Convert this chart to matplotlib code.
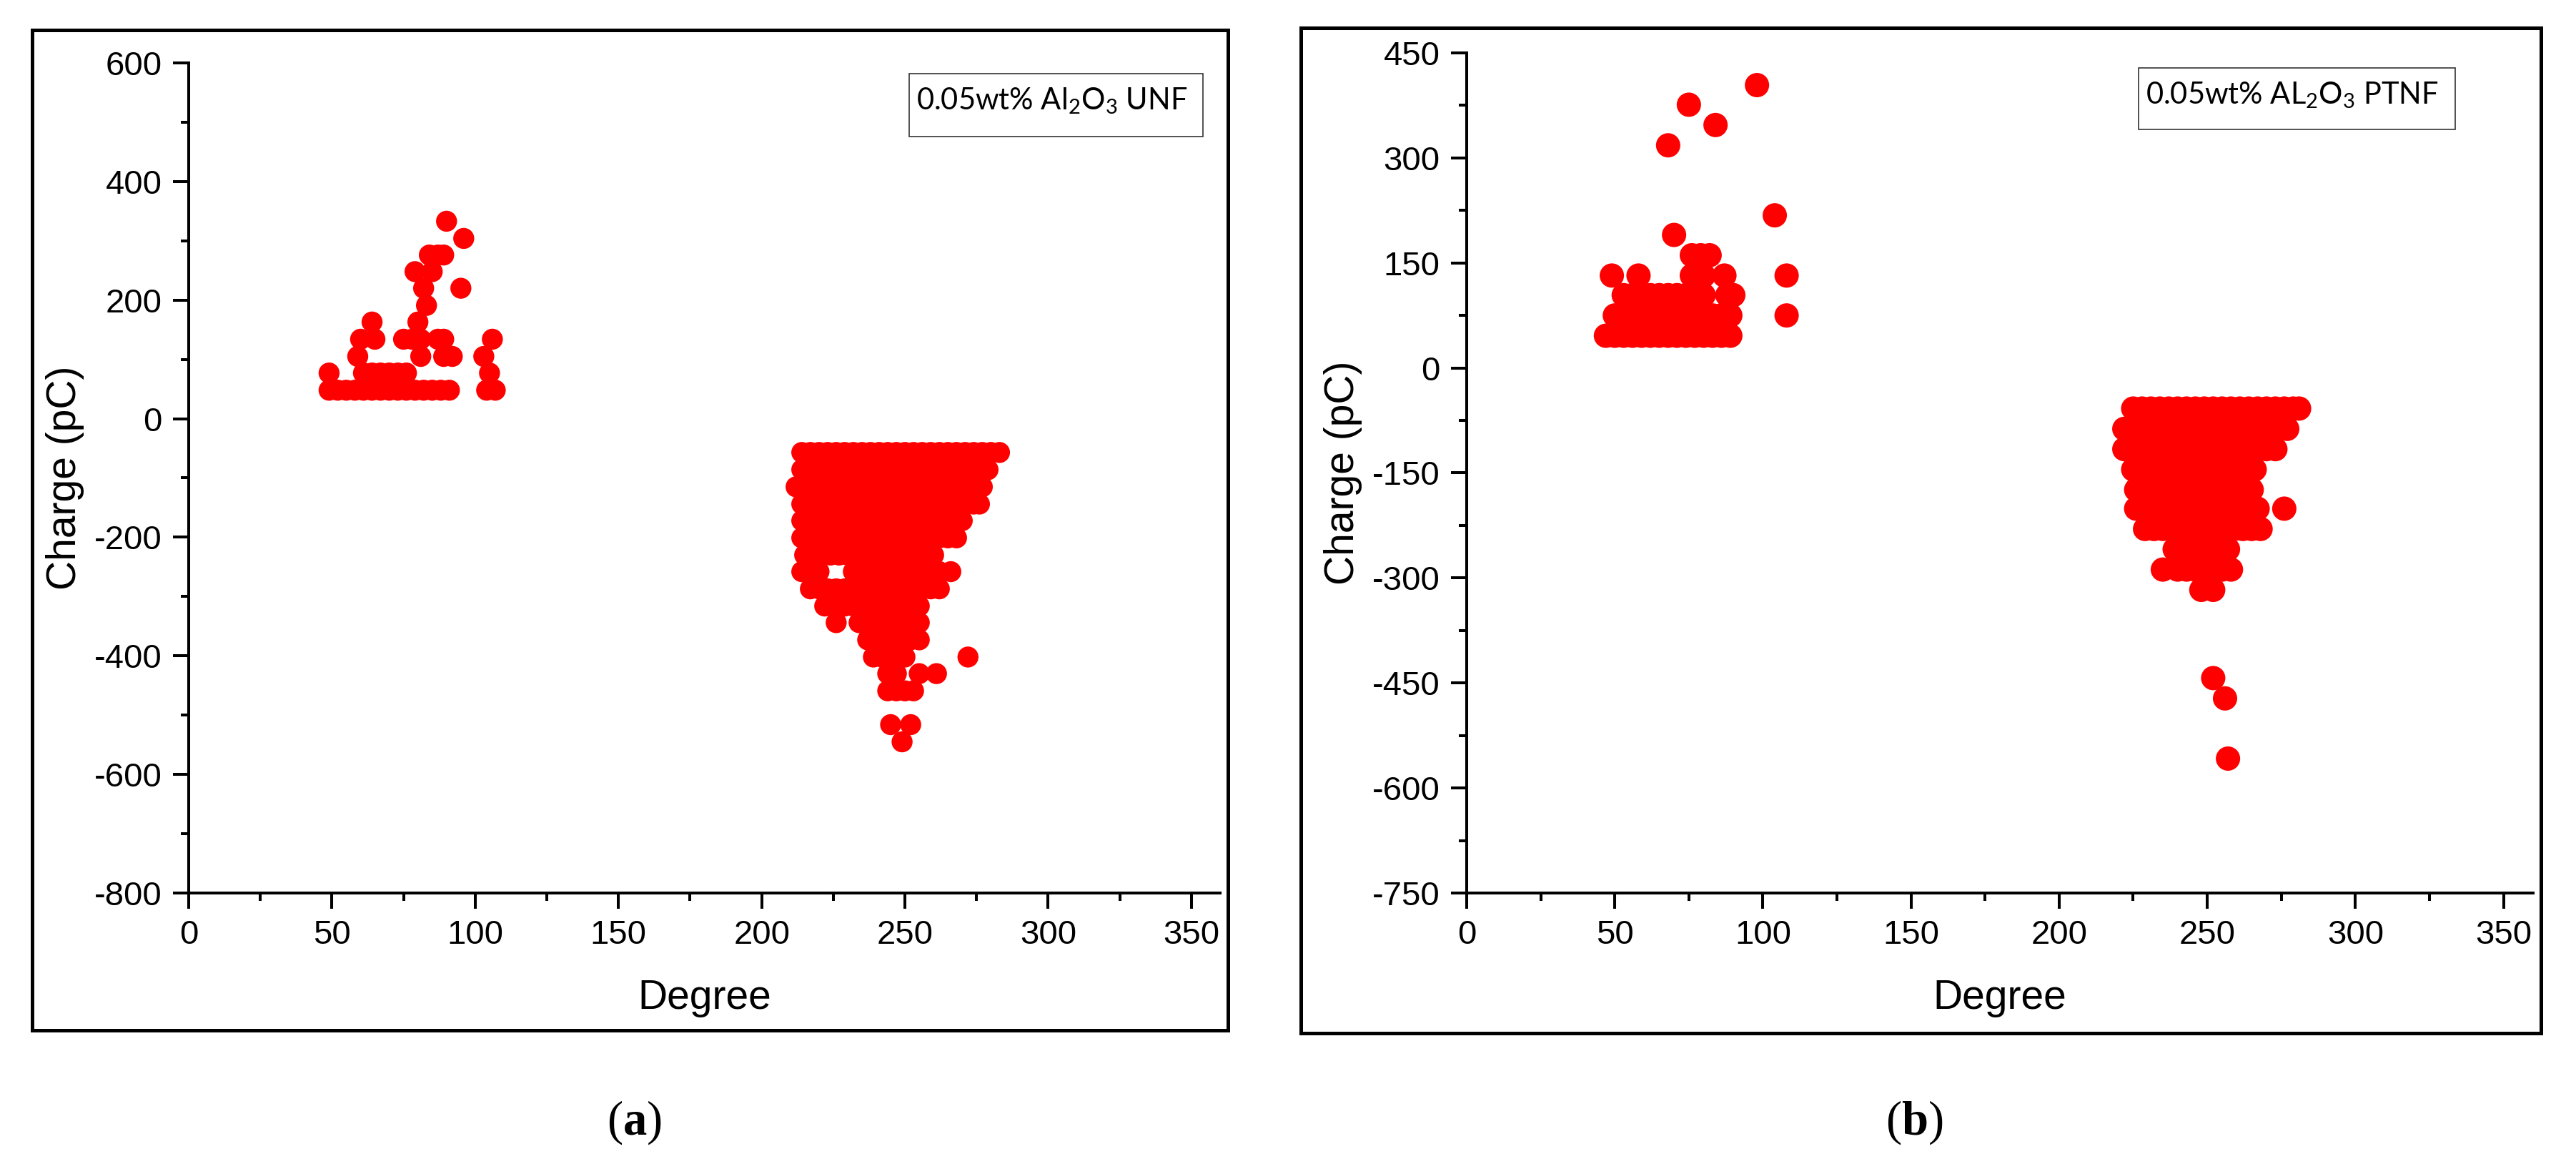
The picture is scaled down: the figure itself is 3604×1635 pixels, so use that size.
import numpy as np
import matplotlib
matplotlib.use("Agg")
import matplotlib.pyplot as plt
from matplotlib.patches import Rectangle
from matplotlib.ticker import MultipleLocator

# ---- (a) 0.05wt% Al2O3 UNF : charge levels (pC) and the phase angles (deg) hit at each level
A_POS_PC = [48, 77, 105, 134, 163, 191, 220, 248, 276, 304, 333]
A_POS_DEG = [
    [49, 52, 55, 58, 61, 64, 67, 70, 73, 76, 79, 82, 85, 88, 91, 104, 107],
    [49, 61, 64, 67, 70, 73, 76, 105],
    [59, 81, 89, 92, 103],
    [60, 65, 75, 78, 81, 87, 89, 106],
    [64, 80],
    [83],
    [82, 95],
    [79, 85],
    [84, 87, 89],
    [96],
    [90],
]
A_NEG_PC = [-57, -86, -115, -144, -172, -201, -230, -258, -287, -316,
            -344, -373, -402, -430, -459, -516, -545]
A_NEG_DEG = [
    [214, 217, 220, 223, 226, 229, 232, 235, 238, 241, 244, 247, 250, 253, 256, 259, 262, 265, 268, 271, 274, 277, 280, 283],
    [214, 217, 220, 223, 226, 229, 232, 235, 238, 241, 244, 247, 250, 253, 256, 259, 262, 265, 268, 271, 274, 277, 279],
    [212, 215, 218, 221, 224, 227, 230, 233, 236, 239, 242, 245, 248, 251, 254, 257, 260, 263, 266, 269, 272, 275, 277],
    [214, 217, 220, 223, 226, 229, 232, 235, 238, 241, 244, 247, 250, 253, 256, 259, 262, 265, 268, 271, 274, 276],
    [214, 217, 220, 223, 226, 229, 232, 235, 238, 241, 244, 247, 250, 253, 256, 259, 262, 265, 268, 270],
    [214, 217, 220, 223, 226, 229, 232, 235, 238, 241, 244, 247, 250, 253, 256, 259, 262, 265, 268],
    [215, 218, 221, 224, 227, 230, 233, 236, 239, 242, 245, 248, 251, 254, 257, 260],
    [214, 217, 220, 232, 235, 238, 241, 244, 247, 250, 253, 256, 259, 262, 266],
    [217, 220, 223, 226, 229, 232, 235, 238, 241, 244, 247, 250, 253, 256, 259, 262],
    [222, 226, 229, 232, 235, 238, 241, 244, 247, 250, 253, 255],
    [226, 234, 237, 240, 243, 246, 249, 252, 255],
    [237, 240, 243, 246, 249, 252, 255],
    [239, 242, 245, 248, 250, 272],
    [244, 247, 255, 261],
    [244, 247, 250, 253],
    [245, 252],
    [249],
]

# ---- (b) 0.05wt% Al2O3 PTNF
B_POS_PC = [46, 75, 104, 132, 161, 190, 218, 318, 347, 376, 404]
B_POS_DEG = [
    [47, 50, 53, 56, 59, 62, 65, 68, 71, 74, 77, 80, 83, 86, 89],
    [50, 53, 56, 59, 62, 65, 68, 71, 74, 77, 80, 83, 86, 89, 108],
    [53, 56, 59, 62, 65, 68, 71, 74, 77, 80, 88, 90],
    [49, 58, 76, 80, 87, 108],
    [76, 79, 82],
    [70],
    [104],
    [68],
    [84],
    [75],
    [98],
]
B_NEG_PC = [-58, -87, -116, -145, -174, -201, -230, -259, -288, -317, -443, -472, -558]
B_NEG_DEG = [
    [225, 228, 231, 234, 237, 240, 243, 246, 249, 252, 255, 258, 261, 264, 267, 270, 273, 276, 279, 281],
    [222, 225, 228, 231, 234, 237, 240, 243, 246, 249, 252, 255, 258, 261, 264, 267, 270, 273, 277],
    [222, 225, 228, 231, 234, 237, 240, 243, 246, 249, 252, 255, 258, 261, 264, 267, 270, 273],
    [225, 228, 231, 234, 237, 240, 243, 246, 249, 252, 255, 258, 261, 264, 266],
    [226, 229, 232, 235, 238, 241, 244, 247, 250, 253, 256, 259, 262, 265],
    [226, 229, 232, 235, 238, 241, 244, 247, 250, 253, 256, 259, 262, 265, 267, 276],
    [229, 232, 235, 238, 241, 244, 247, 250, 253, 256, 259, 262, 265, 268],
    [239, 242, 245, 248, 251, 254, 257],
    [235, 240, 243, 246, 249, 252, 255, 258],
    [248, 252],
    [252],
    [256],
    [257],
]

RED = "#ff0000"
plt.rcParams.update({
    "font.family": "Liberation Sans",
    "axes.unicode_minus": False,
    "mathtext.fontset": "custom",
    "mathtext.rm": "Liberation Serif",
    "mathtext.bf": "Liberation Serif:bold",
})


def flatten(levels, rows):
    xs, ys = [], []
    for lv, row in zip(levels, rows):
        xs += row
        ys += [lv] * len(row)
    return np.array(xs, float), np.array(ys, float)


fig = plt.figure(figsize=(18.02, 8.175), dpi=200)
fig.patch.set_facecolor("white")

panels = [
    dict(rect=[0.07325, 0.23609, 0.40039, 0.71009], ylim=(-800, 600), ymaj=200, ymin=100,
         pos=(A_POS_PC, A_POS_DEG), neg=(A_NEG_PC, A_NEG_DEG), ms=112,
         frame=(0.01235, 0.11896, 0.46448, 0.85505),
         lbox=(0.35294, 0.88318, 0.11404, 0.05382), ltxt=(0.35572, 0.90642),
         label="0.05wt% Al$_\\mathregular{2}$O$_\\mathregular{3}$ UNF",
         tag=(0.2461, "a")),
    dict(rect=[0.56937, 0.23609, 0.41398, 0.71865], ylim=(-750, 450), ymaj=150, ymin=75,
         pos=(B_POS_PC, B_POS_DEG), neg=(B_NEG_PC, B_NEG_DEG), ms=150,
         frame=(0.50513, 0.11651, 0.48141, 0.85994),
         lbox=(0.83019, 0.88930, 0.12292, 0.05260), ltxt=(0.83296, 0.91131),
         label="0.05wt% AL$_\\mathregular{2}$O$_\\mathregular{3}$ PTNF",
         tag=(0.7431, "b")),
]

for p in panels:
    ax = fig.add_axes(p["rect"])
    for lv, rows in (p["pos"], p["neg"]):
        xs, ys = flatten(lv, rows)
        ax.scatter(xs, ys, s=p["ms"], color=RED, edgecolors="none", zorder=3,
                   clip_on=False)
    ax.set_xlim(0, 360)
    ax.set_ylim(*p["ylim"])
    ax.xaxis.set_major_locator(MultipleLocator(50))
    ax.xaxis.set_minor_locator(MultipleLocator(25))
    ax.yaxis.set_major_locator(MultipleLocator(p["ymaj"]))
    ax.yaxis.set_minor_locator(MultipleLocator(p["ymin"]))
    for s in ["top", "right"]:
        ax.spines[s].set_visible(False)
    for s in ["left", "bottom"]:
        ax.spines[s].set_linewidth(1.45)
    ax.tick_params(which="major", direction="out", length=8, width=1.45,
                   labelsize=17, pad=5.5)
    ax.tick_params(which="minor", direction="out", length=4, width=1.45)
    ax.set_xlabel("Degree", fontsize=20.5, labelpad=14)
    ax.set_ylabel("Charge (pC)", fontsize=20.5, labelpad=5)

    fx, fy, fw, fh = p["frame"]
    fig.patches.append(Rectangle((fx, fy), fw, fh, transform=fig.transFigure,
                                 fill=False, lw=1.8, edgecolor="black"))
    bx, by, bw, bh = p["lbox"]
    fig.patches.append(Rectangle((bx, by), bw, bh, transform=fig.transFigure,
                                 fill=False, lw=0.6, edgecolor="#333333"))
    fig.text(p["ltxt"][0], p["ltxt"][1], p["label"], family="Lato",
             fontsize=15, ha="left", va="baseline", color="black")
    tx, letter = p["tag"]
    fig.text(tx, 0.0398, "($\\mathbf{%s}$)" % letter, family="Liberation Serif",
             fontsize=24, ha="center", va="center")

fig.savefig("out.png", dpi=200, facecolor="white")
